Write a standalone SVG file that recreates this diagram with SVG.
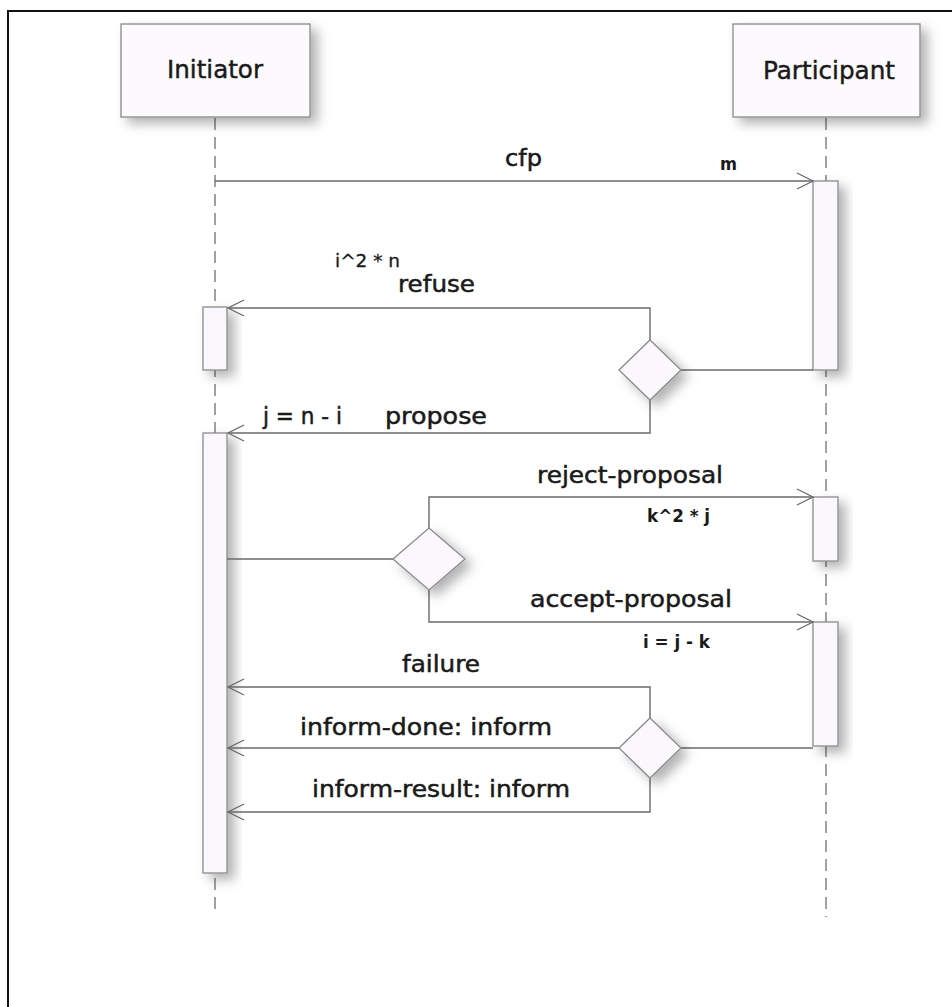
<svg xmlns="http://www.w3.org/2000/svg" width="952" height="1007" viewBox="0 0 952 1007">
<style>
.box{fill:#fcfafd;stroke:#8a8a8a;stroke-width:1.3}
.act{fill:#faf8fc;stroke:#8a8a8a;stroke-width:1.3}
.dia{fill:#faf8fc;stroke:#8a8a8a;stroke-width:1.3}
.life{stroke:#7a7a7a;stroke-width:1.4;stroke-dasharray:12 7;fill:none}
.con{fill:none;stroke:#6a6a6a;stroke-width:1.4}
.hd{font-family:"DejaVu Sans","Liberation Sans",sans-serif;font-size:24px;fill:#1a1a1a;stroke:#1a1a1a;stroke-width:0.45}
.lb{font-family:"DejaVu Sans","Liberation Sans",sans-serif;font-size:23px;fill:#1a1a1a;stroke:#1a1a1a;stroke-width:0.5}
.sm{font-family:"DejaVu Sans","Liberation Sans",sans-serif;font-size:17px;font-weight:bold;fill:#1a1a1a}
.smn{font-family:"DejaVu Sans","Liberation Sans",sans-serif;font-size:18px;fill:#1a1a1a;stroke:#1a1a1a;stroke-width:0.3}
</style>
<defs>
<filter id="sh" x="-40%" y="-20%" width="200%" height="150%">
<feDropShadow dx="7" dy="6" stdDeviation="6" flood-color="#000" flood-opacity="0.3"/>
</filter>
<marker id="arr" viewBox="-18 -10 20 20" refX="0" refY="0" markerWidth="20" markerHeight="20" markerUnits="userSpaceOnUse" orient="auto">
<path d="M-16,-8 L0,0 L-16,8" fill="none" stroke="#6a6a6a" stroke-width="1.3"/>
</marker>
</defs>
<rect width="952" height="1007" fill="#ffffff"/>
<path d="M8,1007 V11 H952" fill="none" stroke="#111" stroke-width="2"/>

<g id="lifelines">
<line class="life" x1="215" y1="118" x2="215" y2="912"/>
<line class="life" x1="826" y1="118" x2="826" y2="917"/>
</g>

<g id="initiator">
<rect class="box" x="121" y="24" width="189" height="93" filter="url(#sh)"/>
<text class="hd" x="167" y="78" textLength="96" lengthAdjust="spacingAndGlyphs">Initiator</text>
</g>
<g id="participant">
<rect class="box" x="733" y="24" width="187" height="93" filter="url(#sh)"/>
<text class="hd" x="763" y="79" textLength="132" lengthAdjust="spacingAndGlyphs">Participant</text>
</g>

<g id="activations">
<rect id="act-p1" class="act" x="813" y="181" width="25" height="189" filter="url(#sh)"/>
<rect id="act-i1" class="act" x="203" y="307" width="24" height="63" filter="url(#sh)"/>
<rect id="act-i2" class="act" x="203" y="433" width="24" height="440" filter="url(#sh)"/>
<rect id="act-p2" class="act" x="813" y="497" width="25" height="64" filter="url(#sh)"/>
<rect id="act-p3" class="act" x="813" y="622" width="25" height="124" filter="url(#sh)"/>
</g>

<g id="connectors">
<path class="con" d="M215,181 H813" marker-end="url(#arr)"/>
<path class="con" d="M681,370 H813"/>
<path class="con" d="M650,340 V308 H228" marker-end="url(#arr)"/>
<path class="con" d="M650,400 V433 H228" marker-end="url(#arr)"/>
<path class="con" d="M227,559 H393"/>
<path class="con" d="M429,528 V497 H813" marker-end="url(#arr)"/>
<path class="con" d="M429,590 V622 H813" marker-end="url(#arr)"/>
<path class="con" d="M681,748 H813"/>
<path class="con" d="M650,718 V687 H228" marker-end="url(#arr)"/>
<path class="con" d="M619,748 H228" marker-end="url(#arr)"/>
<path class="con" d="M650,778 V812 H228" marker-end="url(#arr)"/>
</g>

<g id="decision1">
<polygon class="dia" points="650,340 681,370 650,400 619,370" filter="url(#sh)"/>
</g>
<g id="decision2">
<polygon class="dia" points="429,528 465,559 429,590 393,559" filter="url(#sh)"/>
</g>
<g id="decision3">
<polygon class="dia" points="650,718 681,748 650,778 619,748" filter="url(#sh)"/>
</g>

<g id="labels">
<text class="lb" x="505" y="166" textLength="37" lengthAdjust="spacingAndGlyphs">cfp</text>
<text class="sm" x="720" y="170" textLength="17" lengthAdjust="spacingAndGlyphs">m</text>
<text class="smn" x="335" y="267" textLength="65" lengthAdjust="spacingAndGlyphs">i^2 * n</text>
<text class="lb" x="398" y="292" textLength="77" lengthAdjust="spacingAndGlyphs">refuse</text>
<text class="lb" x="263" y="424" font-size="20" textLength="79" lengthAdjust="spacingAndGlyphs">j = n - i</text>
<text class="lb" x="385" y="424" textLength="102" lengthAdjust="spacingAndGlyphs">propose</text>
<text class="lb" x="537" y="483" textLength="186" lengthAdjust="spacingAndGlyphs">reject-proposal</text>
<text class="sm" x="647" y="522" textLength="63" lengthAdjust="spacingAndGlyphs">k^2 * j</text>
<text class="lb" x="530" y="607" textLength="202" lengthAdjust="spacingAndGlyphs">accept-proposal</text>
<text class="sm" x="643" y="648" textLength="67" lengthAdjust="spacingAndGlyphs">i = j - k</text>
<text class="lb" x="402" y="672" textLength="78" lengthAdjust="spacingAndGlyphs">failure</text>
<text class="lb" x="300" y="735" textLength="252" lengthAdjust="spacingAndGlyphs">inform-done: inform</text>
<text class="lb" x="312" y="797" textLength="258" lengthAdjust="spacingAndGlyphs">inform-result: inform</text>
</g>
</svg>
